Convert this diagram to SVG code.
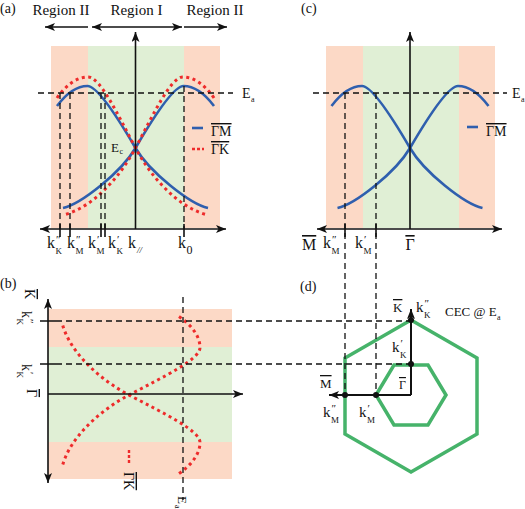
<svg xmlns="http://www.w3.org/2000/svg" width="525" height="509" viewBox="0 0 525 509">
<defs>
<style>
.t{font-family:"Liberation Serif","Times New Roman",serif;fill:#111}
.lab{font-size:14px}
.reg{font-size:15px}
.k{font-size:16px}
.kd{font-size:15px}
.sub{font-size:9px}
.sup{font-size:11px}
.ol{text-decoration:overline}
.pink{fill:#fcd9c6}
.green{fill:#e0efd5}
.ax{stroke:#111;stroke-width:1.6;fill:none}
.tick{stroke:#111;stroke-width:1.6;fill:none}
.dash{stroke:#111;stroke-width:1.3;stroke-dasharray:6 4;fill:none}
.blue{stroke:#2f5fae;stroke-width:2.6;fill:none}
.red{stroke:#ee2b2b;stroke-width:3;stroke-dasharray:3 3.5;fill:none}
.hex{stroke:#46b36a;stroke-width:3.5;fill:none}
</style>
<marker id="ah" viewBox="0 0 10 8" refX="10" refY="4" markerWidth="10" markerHeight="8" orient="auto-start-reverse" markerUnits="userSpaceOnUse">
<path d="M0,0 L10,4 L0,8 L2.5,4 z" fill="#111"/>
</marker>
</defs>

<!-- Panel (a) -->
<g id="panel-a">
<rect class="pink" x="51" y="46" width="37" height="182"/>
<rect class="green" x="88" y="46" width="96" height="182"/>
<rect class="pink" x="184" y="46" width="36" height="182"/>
<text class="t lab" x="0" y="13">(a)</text>
<text class="t reg" x="61" y="15" text-anchor="middle">Region II</text>
<text class="t reg" x="136.5" y="15" text-anchor="middle">Region I</text>
<text class="t reg" x="215" y="15" text-anchor="middle">Region II</text>
<text class="t lab" x="242" y="98">E<tspan x="251" y="102" font-size="8">a</tspan></text>
<text class="t" font-size="13" x="111" y="152">E<tspan x="119.5" y="154" font-size="8">c</tspan></text>
<path class="blue" d="M57,106 C66,94 77,86 87.5,86 C97,86 118,118 135.5,148 C149.5,172 190,204 208,208"/>
<path class="blue" transform="translate(271,0) scale(-1,1)" d="M57,106 C66,94 77,86 87.5,86 C97,86 118,118 135.5,148 C149.5,172 190,204 208,208"/>
<path class="red" d="M57,98 C66,85 77,77 88,77 C100,77 117,113 135.5,148 C150.3,176 178,208 208,215"/>
<path class="red" transform="translate(271,0) scale(-1,1)" d="M57,98 C66,85 77,77 88,77 C100,77 117,113 135.5,148 C150.3,176 178,208 208,215"/>
<path class="blue" d="M192,128 H203"/>
<text class="t lab ol" x="211" y="136">ΓM</text>
<path class="red" style="stroke-dasharray:3 2;stroke-width:2.4" d="M192,149 H204"/>
<text class="t lab ol" x="211" y="154">ΓK</text>
<text class="t k" x="47" y="248">k<tspan class="sub" x="55.5" y="254">K</tspan><tspan class="sup" x="56" y="243">″</tspan></text>
<text class="t k" x="67" y="248">k<tspan class="sub" x="75.5" y="254">M</tspan><tspan class="sup" x="76" y="243">″</tspan></text>
<text class="t k" x="88" y="248">k<tspan class="sub" x="96.5" y="254">M</tspan><tspan class="sup" x="97" y="243">′</tspan></text>
<text class="t k" x="108" y="248">k<tspan class="sub" x="116.5" y="254">K</tspan><tspan class="sup" x="117" y="243">′</tspan></text>
<text class="t k" x="128" y="248">k<tspan class="sub" x="137" y="253" font-style="italic">//</tspan></text>
<text class="t k" x="178" y="248">k<tspan x="186.5" y="254" font-size="12">0</tspan></text>
</g>

<!-- Panel (c) -->
<g id="panel-c">
<rect class="pink" x="326" y="46" width="37" height="182"/>
<rect class="green" x="363" y="46" width="96" height="182"/>
<rect class="pink" x="459" y="46" width="36" height="182"/>
<text class="t lab" x="301" y="13">(c)</text>
<text class="t lab" x="512" y="98">E<tspan x="521" y="102" font-size="8">a</tspan></text>
<g transform="translate(274.5,0)">
<path class="blue" d="M57,106 C66,94 77,86 87.5,86 C97,86 118,118 135.5,148 C149.5,172 190,204 208,208"/>
<path class="blue" transform="translate(271,0) scale(-1,1)" d="M57,106 C66,94 77,86 87.5,86 C97,86 118,118 135.5,148 C149.5,172 190,204 208,208"/>
</g>
<path class="blue" d="M467,127 H478"/>
<text class="t lab ol" x="486" y="136">ΓM</text>
<text class="t k ol" x="302" y="250">M</text>
<text class="t k" x="323" y="248">k<tspan class="sub" x="331.5" y="254">M</tspan><tspan class="sup" x="332" y="243">″</tspan></text>
<text class="t k" x="355" y="248">k<tspan class="sub" x="363.5" y="254">M</tspan><tspan class="sup" x="364" y="243">′</tspan></text>
<text class="t k ol" x="410" y="250" text-anchor="middle">Γ</text>
</g>

<!-- Panel (b) -->
<g id="panel-b">
<rect class="pink" x="48" y="309" width="184" height="38"/>
<rect class="green" x="48" y="347" width="184" height="95"/>
<rect class="pink" x="48" y="442" width="184" height="37"/>
<text class="t lab" x="0" y="288">(b)</text>
<g transform="translate(277,259.5) rotate(90)">
<path class="red" d="M57,98 C66,85 77,77 88,77 C100,77 117,113 135.5,148 C150.3,176 178,208 208,215"/>
<path class="red" transform="translate(271,0) scale(-1,1)" d="M57,98 C66,85 77,77 88,77 C100,77 117,113 135.5,148 C150.3,176 178,208 208,215"/>
</g>
<path class="red" style="stroke-dasharray:3 2;stroke-width:2.4" d="M129,450 V464"/>
<text class="t lab ol" transform="translate(124,472) rotate(90)">ΓK</text>
<text class="t" font-size="13" transform="translate(178,496) rotate(90)">E<tspan x="9" y="3" font-size="8">a</tspan></text>
<text class="t lab ol" transform="translate(25,289) rotate(90)">K</text>
<text class="t lab" transform="translate(22,311) rotate(90)">k<tspan class="sub" x="7.5" y="5">K</tspan><tspan class="sup" x="8" y="-4">″</tspan></text>
<text class="t lab" transform="translate(22,364) rotate(90)">k<tspan class="sub" x="7.5" y="5">K</tspan><tspan class="sup" x="8" y="-4">′</tspan></text>
<text class="t lab ol" transform="translate(27,389) rotate(90)">Γ</text>
</g>

<!-- Panel (d) -->
<g id="panel-d">
<text class="t lab" x="300" y="291">(d)</text>
<polygon class="hex" points="411,320 477,358 477,434 411,472 345,434 345,358"/>
<polygon class="hex" points="394,365 428,365 446,395 428,425 394,425 376,395"/>
<text class="t" font-size="13" x="393" y="312" style="text-decoration:overline">K</text>
<text class="t kd" x="416" y="312">k<tspan class="sub" x="424" y="318">K</tspan><tspan class="sup" x="424.5" y="307">″</tspan></text>
<text class="t" font-size="13" x="445" y="316">CEC @ E<tspan x="497" y="320" font-size="8">a</tspan></text>
<text class="t kd" x="392" y="352">k<tspan class="sub" x="400" y="358">K</tspan><tspan class="sup" x="400.5" y="347">′</tspan></text>
<text class="t ol" font-size="12" x="399" y="389">Γ</text>
<text class="t ol" font-size="13" x="320" y="388">M</text>
<text class="t kd" x="323" y="417">k<tspan class="sub" x="331" y="423">M</tspan><tspan class="sup" x="331.5" y="412">″</tspan></text>
<text class="t kd" x="359" y="417">k<tspan class="sub" x="367" y="423">M</tspan><tspan class="sup" x="367.5" y="412">′</tspan></text>
</g>

<!-- Connectors: axes, arrows, guide lines -->
<g id="connectors">
<path class="ax" d="M88,27 H45" marker-end="url(#ah)"/>
<path class="ax" d="M92,27 H182" marker-start="url(#ah)" marker-end="url(#ah)"/>
<path class="ax" d="M184,27 H227" marker-end="url(#ah)"/>
<path class="dash" d="M38,93 H233"/>
<path class="dash" d="M60,93 V229 M70,93 V229 M101,93 V229 M105,93 V229 M184,86 V229"/>
<path class="ax" d="M40,229 H226" marker-start="url(#ah)" marker-end="url(#ah)"/>
<path class="ax" d="M135.5,229 V32" marker-end="url(#ah)"/>
<path class="tick" d="M60,224 V237 M70,224 V237 M101,224 V237 M105,224 V237 M184,224 V237"/>
<path class="dash" d="M313,93 H507"/>
<path class="dash" d="M345,93 V395 M376,93 V395"/>
<path class="ax" d="M317,229 H502" marker-start="url(#ah)" marker-end="url(#ah)"/>
<path class="ax" d="M410,229 V32" marker-end="url(#ah)"/>
<path class="tick" d="M345,224 V237 M376,224 V237"/>
<path class="dash" d="M56,321 H411 M56,364 H411"/>
<path class="dash" d="M183,297 V500"/>
<path class="ax" d="M48,483 V299" marker-start="url(#ah)" marker-end="url(#ah)"/>
<path class="ax" d="M48,394 H243" marker-end="url(#ah)"/>
<path class="tick" d="M40,321 H56 M40,364 H56"/>
<path class="ax" style="stroke-width:2" d="M411,395 V309" marker-end="url(#ah)"/>
<path class="ax" style="stroke-width:2" d="M411,395 H329" marker-end="url(#ah)"/>
<g fill="#111">
<circle cx="411" cy="320" r="3"/>
<circle cx="411" cy="364" r="3"/>
<circle cx="345" cy="395" r="3"/>
<circle cx="376" cy="395" r="3"/>
</g>
</g>
</svg>
